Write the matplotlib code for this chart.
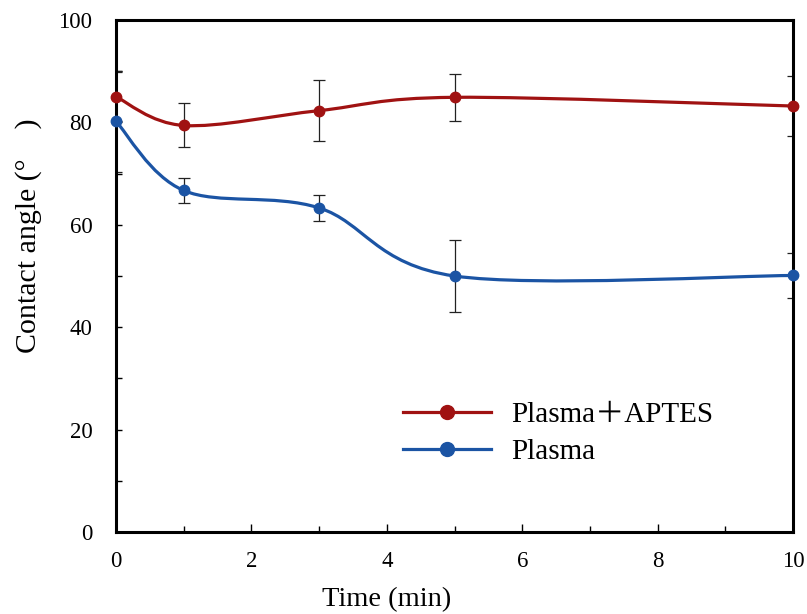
import numpy as np
import matplotlib
matplotlib.use("Agg")
import matplotlib.pyplot as plt
from matplotlib.path import Path
from matplotlib.patches import PathPatch
from matplotlib.lines import Line2D
from matplotlib.ticker import MultipleLocator

# measurements
time_min = [0, 1, 3, 5, 10]
aptes_mean = [85.0, 79.4, 82.3, 84.9, 83.2]
aptes_err = [4.8, 4.3, 5.9, 4.6, 5.9]
plasma_mean = [80.2, 66.7, 63.3, 50.0, 50.1]
plasma_err = [9.9, 2.4, 2.6, 7.1, 4.3]

labels = ["Plasma\uff0bAPTES", "Plasma"]
colors = ["#a01212", "#1b54a4"]

plt.rcParams["font.family"] = ["Liberation Serif", "Noto Sans CJK SC"]


def smooth_path(x, y):
    """Excel-style smoothed line: cubic Bezier segments through every point."""
    pts = np.column_stack([x, y]).astype(float)
    n = len(pts)
    verts = [pts[0]]
    codes = [Path.MOVETO]
    for i in range(n - 1):
        p0 = pts[max(i - 1, 0)]
        p1 = pts[i]
        p2 = pts[i + 1]
        p3 = pts[min(i + 2, n - 1)]
        c1 = p1 + (p2 - p0) / 6.0
        c2 = p2 - (p3 - p1) / 6.0
        verts += [c1, c2, p2]
        codes += [Path.CURVE4] * 3
    return Path(verts, codes)


fig = plt.figure(figsize=(8.07, 6.14), dpi=100)
ax = fig.add_axes([116 / 807, 1 - 532 / 614, 677 / 807, 512 / 614])

for mean, err, color in zip([aptes_mean, plasma_mean], [aptes_err, plasma_err], colors):
    ax.errorbar(time_min, mean, yerr=err, fmt="none", ecolor="#222222",
                elinewidth=0.9, capsize=4.5, capthick=0.9, zorder=2)
    ax.add_patch(PathPatch(smooth_path(time_min, mean), facecolor="none",
                           edgecolor=color, linewidth=2.3, zorder=3))
    ax.plot(time_min, mean, "o", color=color, markersize=7.5, zorder=4, clip_on=False)

ax.set_xlim(0, 10)
ax.set_ylim(0, 100)
ax.xaxis.set_major_locator(MultipleLocator(2))
ax.xaxis.set_minor_locator(MultipleLocator(1))
ax.yaxis.set_major_locator(MultipleLocator(20))
ax.yaxis.set_minor_locator(MultipleLocator(10))
ax.tick_params(axis="x", which="major", direction="in", length=6, width=1, pad=14, labelsize=16.5)
ax.tick_params(axis="x", which="minor", direction="in", length=4, width=1)
ax.tick_params(axis="y", which="major", direction="in", length=4, width=1, pad=17, labelsize=16.5)
ax.tick_params(axis="y", which="minor", direction="in", length=4, width=1)
for side in ax.spines.values():
    side.set_linewidth(2.2)

ax.set_xlabel("Time (min)", fontsize=20.5)
ax.xaxis.set_label_coords(0.40, -0.108)
ax.set_ylabel("Contact angle (\u00b0\u3000)", fontsize=21.5)
ax.yaxis.set_label_coords(-0.11, 0.578)

handles = [Line2D([], [], color=c, linewidth=2.3, marker="o", markersize=10) for c in colors]
ax.legend(handles, labels, loc="upper left", bbox_to_anchor=(0.424, 0.255),
          frameon=False, fontsize=21, handlelength=3.0, handletextpad=0.7,
          labelspacing=0.37, borderpad=0, borderaxespad=0)

fig.savefig("out.png", dpi=100)
